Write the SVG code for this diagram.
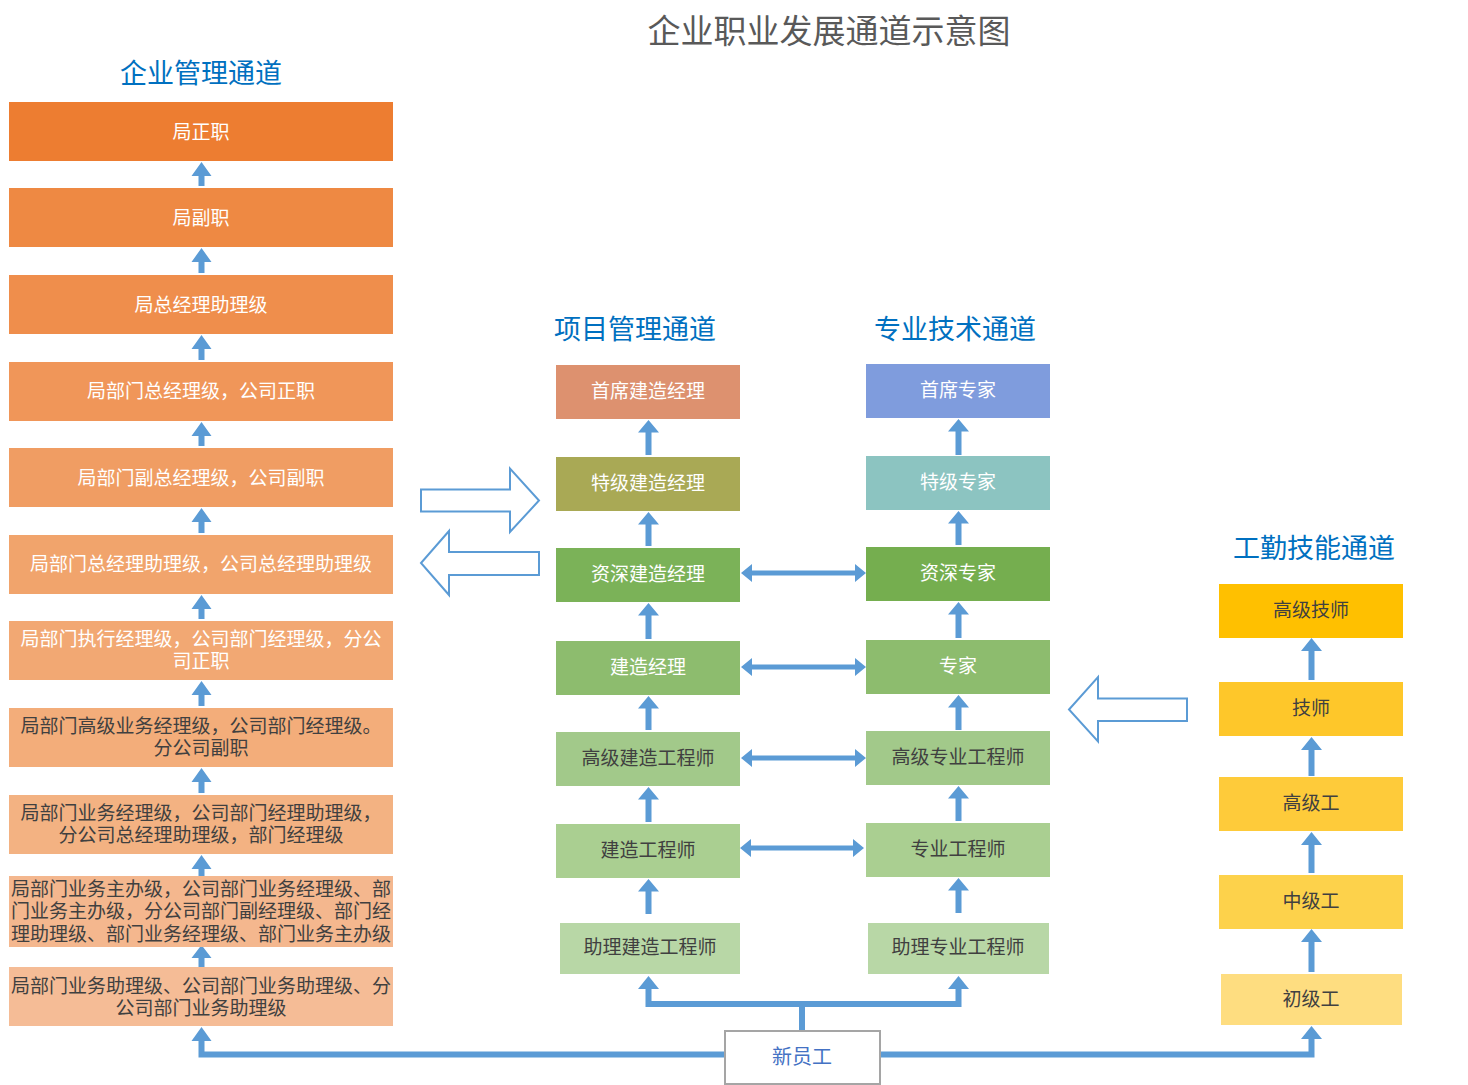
<svg xmlns="http://www.w3.org/2000/svg" width="1468" height="1085" viewBox="0 0 1468 1085">
<style>
text{font-family:"Noto Sans CJK SC","Microsoft YaHei","Liberation Sans",sans-serif;text-anchor:middle}
.t{font-size:19px}
.w{fill:#FFFFFF}
.d{fill:#404040}
.h{font-size:27px;fill:#0070C0}
.arr{fill:#5B9BD5}
.hol{fill:#FFFFFF;stroke:#5B9BD5;stroke-width:2}
.ln{fill:none;stroke:#5B9BD5;stroke-width:6}
</style>
<rect width="1468" height="1085" fill="#FFFFFF"/>
<text x="829" y="43" style="font-size:33px;fill:#595959">企业职业发展通道示意图</text>
<text x="201" y="83" class="h">企业管理通道</text>
<text x="635" y="339" class="h">项目管理通道</text>
<text x="955" y="339" class="h">专业技术通道</text>
<text x="1314" y="558" class="h">工勤技能通道</text>

<g id="connectors">
<polygon class="arr" points="201.5,162 211.5,176 204.5,176 204.5,186 198.5,186 198.5,176 191.5,176"/>
<polygon class="arr" points="201.5,248 211.5,262 204.5,262 204.5,273 198.5,273 198.5,262 191.5,262"/>
<polygon class="arr" points="201.5,335 211.5,349 204.5,349 204.5,360 198.5,360 198.5,349 191.5,349"/>
<polygon class="arr" points="201.5,422 211.5,436 204.5,436 204.5,446 198.5,446 198.5,436 191.5,436"/>
<polygon class="arr" points="201.5,508 211.5,522 204.5,522 204.5,533 198.5,533 198.5,522 191.5,522"/>
<polygon class="arr" points="201.5,595 211.5,609 204.5,609 204.5,619 198.5,619 198.5,609 191.5,609"/>
<polygon class="arr" points="201.5,681 211.5,695 204.5,695 204.5,706 198.5,706 198.5,695 191.5,695"/>
<polygon class="arr" points="201.5,768 211.5,782 204.5,782 204.5,793 198.5,793 198.5,782 191.5,782"/>
<polygon class="arr" points="201.5,855 211.5,869 204.5,869 204.5,876 198.5,876 198.5,869 191.5,869"/>
<polygon class="arr" points="201.5,945 211.5,958 204.5,958 204.5,967 198.5,967 198.5,958 191.5,958"/>
<polygon class="arr" points="648.5,420 659,432.5 651.5,432.5 651.5,455 645.5,455 645.5,432.5 638,432.5"/>
<polygon class="arr" points="648.5,512 659,524.5 651.5,524.5 651.5,546 645.5,546 645.5,524.5 638,524.5"/>
<polygon class="arr" points="648.5,603 659,615.5 651.5,615.5 651.5,639 645.5,639 645.5,615.5 638,615.5"/>
<polygon class="arr" points="648.5,696 659,708.5 651.5,708.5 651.5,730 645.5,730 645.5,708.5 638,708.5"/>
<polygon class="arr" points="648.5,787 659,799.5 651.5,799.5 651.5,822 645.5,822 645.5,799.5 638,799.5"/>
<polygon class="arr" points="648.5,879 659,891.5 651.5,891.5 651.5,914 645.5,914 645.5,891.5 638,891.5"/>
<polygon class="arr" points="958.5,419 969,431.5 961.5,431.5 961.5,455 955.5,455 955.5,431.5 948,431.5"/>
<polygon class="arr" points="958.5,511 969,523.5 961.5,523.5 961.5,545 955.5,545 955.5,523.5 948,523.5"/>
<polygon class="arr" points="958.5,602 969,614.5 961.5,614.5 961.5,638 955.5,638 955.5,614.5 948,614.5"/>
<polygon class="arr" points="958.5,695 969,707.5 961.5,707.5 961.5,730 955.5,730 955.5,707.5 948,707.5"/>
<polygon class="arr" points="958.5,786 969,798.5 961.5,798.5 961.5,821 955.5,821 955.5,798.5 948,798.5"/>
<polygon class="arr" points="958.5,878 969,890.5 961.5,890.5 961.5,913 955.5,913 955.5,890.5 948,890.5"/>
<polygon class="arr" points="741,573 752,564 752,570.5 855,570.5 855,564 866,573 855,582 855,575.5 752,575.5 752,582"/>
<polygon class="arr" points="741,667 752,658 752,664.5 855,664.5 855,658 866,667 855,676 855,669.5 752,669.5 752,676"/>
<polygon class="arr" points="741,758 752,749 752,755.5 855,755.5 855,749 866,758 855,767 855,760.5 752,760.5 752,767"/>
<polygon class="arr" points="740,848 751,839 751,845.5 853,845.5 853,839 864,848 853,857 853,850.5 751,850.5 751,857"/>
<polygon class="arr" points="1311.5,638 1322,651 1314.5,651 1314.5,680 1308.5,680 1308.5,651 1301,651"/>
<polygon class="arr" points="1311.5,737 1322,750 1314.5,750 1314.5,776 1308.5,776 1308.5,750 1301,750"/>
<polygon class="arr" points="1311.5,832 1322,845 1314.5,845 1314.5,873 1308.5,873 1308.5,845 1301,845"/>
<polygon class="arr" points="1311.5,929 1322,942 1314.5,942 1314.5,972 1308.5,972 1308.5,942 1301,942"/>
<polygon class="hol" points="421,489.5 510,489.5 510,468.5 539,500.5 510,532 510,511.5 421,511.5"/>
<polygon class="hol" points="539,552 449,552 449,531 421,563 449,595 449,575 539,575"/>
<polygon class="hol" points="1187,698.5 1098,698.5 1098,677 1069,709.5 1098,741.5 1098,721 1187,721"/>
<polyline class="ln" points="201.5,1040 201.5,1054.5 1311.5,1054.5 1311.5,1038"/>
<polygon class="arr" points="201.5,1027 211.5,1041 191.5,1041"/>
<polygon class="arr" points="1311.5,1026 1322,1039 1301,1039"/>
<polyline class="ln" points="802,1032 802,1004"/>
<polyline class="ln" points="648.5,988 648.5,1004 958.5,1004 958.5,988"/>
<polygon class="arr" points="648.5,976 659,989 638,989"/>
<polygon class="arr" points="958.5,976 969,989 948,989"/>
</g>

<g id="mgmt-1"><rect x="9" y="102" width="384" height="59" fill="#ED7D31"/><text x="201" y="139" class="t w">局正职</text></g>
<g id="mgmt-2"><rect x="9" y="188" width="384" height="59" fill="#EE8943"/><text x="201" y="225" class="t w">局副职</text></g>
<g id="mgmt-3"><rect x="9" y="275" width="384" height="59" fill="#EF8E4C"/><text x="201" y="312" class="t w">局总经理助理级</text></g>
<g id="mgmt-4"><rect x="9" y="362" width="384" height="59" fill="#F09659"/><text x="201" y="398" class="t w">局部门总经理级，公司正职</text></g>
<g id="mgmt-5"><rect x="9" y="448" width="384" height="59" fill="#F09D63"/><text x="201" y="485" class="t w">局部门副总经理级，公司副职</text></g>
<g id="mgmt-6"><rect x="9" y="535" width="384" height="59" fill="#F1A46C"/><text x="201" y="571" class="t w">局部门总经理助理级，公司总经理助理级</text></g>
<g id="mgmt-7"><rect x="9" y="621" width="384" height="59" fill="#F2A873"/><text x="201" y="646" class="t w">局部门执行经理级，公司部门经理级，分公</text><text x="201" y="668" class="t w">司正职</text></g>
<g id="mgmt-8"><rect x="9" y="708" width="384" height="59" fill="#F3AD7A"/><text x="201" y="733" class="t d">局部门高级业务经理级，公司部门经理级。</text><text x="201" y="755" class="t d">分公司副职</text></g>
<g id="mgmt-9"><rect x="9" y="795" width="384" height="59" fill="#F3B282"/><text x="201" y="820" class="t d">局部门业务经理级，公司部门经理助理级，</text><text x="201" y="842" class="t d">分公司总经理助理级，部门经理级</text></g>
<g id="mgmt-10"><rect x="9" y="876" width="384" height="71" fill="#F4B78E"/><text x="201" y="896" class="t d">局部门业务主办级，公司部门业务经理级、部</text><text x="201" y="918" class="t d">门业务主办级，分公司部门副经理级、部门经</text><text x="201" y="941" class="t d">理助理级、部门业务经理级、部门业务主办级</text></g>
<g id="mgmt-11"><rect x="9" y="967" width="384" height="59" fill="#F5BC96"/><text x="201" y="993" class="t d">局部门业务助理级、公司部门业务助理级、分</text><text x="201" y="1015" class="t d">公司部门业务助理级</text></g>

<g id="pm-1"><rect x="556" y="365" width="184" height="54" fill="#DD916F"/><text x="648" y="398" class="t w">首席建造经理</text></g>
<g id="pm-2"><rect x="556" y="457" width="184" height="54" fill="#A9A955"/><text x="648" y="490" class="t w">特级建造经理</text></g>
<g id="pm-3"><rect x="556" y="548" width="184" height="54" fill="#7BB258"/><text x="648" y="581" class="t w">资深建造经理</text></g>
<g id="pm-4"><rect x="556" y="641" width="184" height="54" fill="#8DBC6E"/><text x="648" y="674" class="t w">建造经理</text></g>
<g id="pm-5"><rect x="556" y="732" width="184" height="54" fill="#A2C98A"/><text x="648" y="765" class="t d">高级建造工程师</text></g>
<g id="pm-6"><rect x="556" y="824" width="184" height="54" fill="#AACF91"/><text x="648" y="857" class="t d">建造工程师</text></g>
<g id="pm-7"><rect x="560" y="923" width="180" height="51" fill="#B8D7A6"/><text x="650" y="954" class="t d">助理建造工程师</text></g>

<g id="pt-1"><rect x="866" y="364" width="184" height="54" fill="#7F9CDD"/><text x="958" y="397" class="t w">首席专家</text></g>
<g id="pt-2"><rect x="866" y="456" width="184" height="54" fill="#8CC4C1"/><text x="958" y="489" class="t w">特级专家</text></g>
<g id="pt-3"><rect x="866" y="547" width="184" height="54" fill="#75AE4F"/><text x="958" y="580" class="t w">资深专家</text></g>
<g id="pt-4"><rect x="866" y="640" width="184" height="54" fill="#8DBC6E"/><text x="958" y="673" class="t w">专家</text></g>
<g id="pt-5"><rect x="866" y="731" width="184" height="54" fill="#A2C98A"/><text x="958" y="764" class="t d">高级专业工程师</text></g>
<g id="pt-6"><rect x="866" y="823" width="184" height="54" fill="#AACF91"/><text x="958" y="856" class="t d">专业工程师</text></g>
<g id="pt-7"><rect x="868" y="923" width="181" height="51" fill="#B8D7A6"/><text x="958" y="954" class="t d">助理专业工程师</text></g>

<g id="wk-1"><rect x="1219" y="584" width="184" height="54" fill="#FFC000"/><text x="1311" y="617" class="t d">高级技师</text></g>
<g id="wk-2"><rect x="1219" y="682" width="184" height="54" fill="#FEC72A"/><text x="1311" y="715" class="t d">技师</text></g>
<g id="wk-3"><rect x="1219" y="777" width="184" height="54" fill="#FECB3A"/><text x="1311" y="810" class="t d">高级工</text></g>
<g id="wk-4"><rect x="1219" y="875" width="184" height="54" fill="#FDD24B"/><text x="1311" y="908" class="t d">中级工</text></g>
<g id="wk-5"><rect x="1221" y="974" width="181" height="51" fill="#FEDD80"/><text x="1311" y="1006" class="t d">初级工</text></g>

<g id="new-employee"><rect x="725" y="1031" width="155" height="53" fill="#FFFFFF" stroke="#A5A5A5" stroke-width="2"/><text x="802" y="1064" style="font-size:20px;fill:#4472C4">新员工</text></g>
</svg>
